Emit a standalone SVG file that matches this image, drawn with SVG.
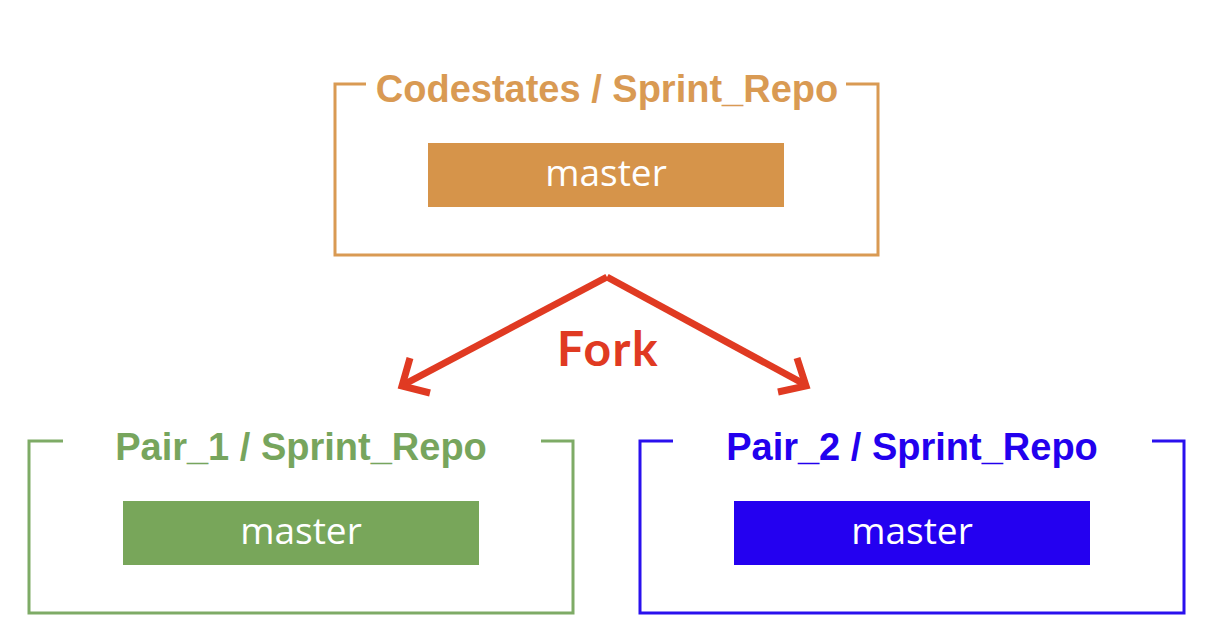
<svg xmlns="http://www.w3.org/2000/svg" width="1224" height="628" viewBox="0 0 1224 628">
<style>
.frame{fill:none;stroke-width:3}
.title{font-family:"Liberation Sans",Arial,sans-serif;font-weight:bold;font-size:38px;text-anchor:middle}
.branch{font-family:"Open Sans","Noto Sans",sans-serif;font-size:37px;fill:#ffffff;text-anchor:middle}
.conn{fill:none;stroke:#E03A22;stroke-width:7;stroke-linecap:butt;stroke-linejoin:miter}
</style>
<rect width="1224" height="628" fill="#ffffff"/>
<g id="codestates">
<path class="frame" stroke="#D99A53" d="M366 84 H335 V255 H878 V84 H846"/>
<text class="title" x="607" y="102" fill="#D99A53">Codestates / Sprint_Repo</text>
<rect x="428" y="143" width="356" height="64" fill="#D6944A"/>
<text class="branch" x="606" y="186">master</text>
</g>
<g id="pair1">
<path class="frame" stroke="#7EAB66" d="M63 441 H29 V613 H573 V441 H541"/>
<text class="title" x="301" y="460" fill="#77A55D">Pair_1 / Sprint_Repo</text>
<rect x="123" y="501" width="356" height="64" fill="#78A65A"/>
<text class="branch" x="301" y="544">master</text>
</g>
<g id="pair2">
<path class="frame" stroke="#2A10EE" d="M673 441 H640 V613 H1184 V441 H1152"/>
<text class="title" x="912" y="460" fill="#2200EE">Pair_2 / Sprint_Repo</text>
<rect x="734" y="501" width="356" height="64" fill="#2400F0"/>
<text class="branch" x="912" y="544">master</text>
</g>
<g id="connectors">
<path class="conn" d="M607 277 L403 385"/>
<path class="conn" d="M410 358 L402 386 L430 393"/>
<path class="conn" d="M607 277 L806 385"/>
<path class="conn" d="M797 358 L806 386 L778 392"/>
<text x="608" y="366" font-family="Lato,'Open Sans',sans-serif" font-weight="bold" font-size="48" letter-spacing="1.5" fill="#E03A22" text-anchor="middle">Fork</text>
</g>
</svg>
